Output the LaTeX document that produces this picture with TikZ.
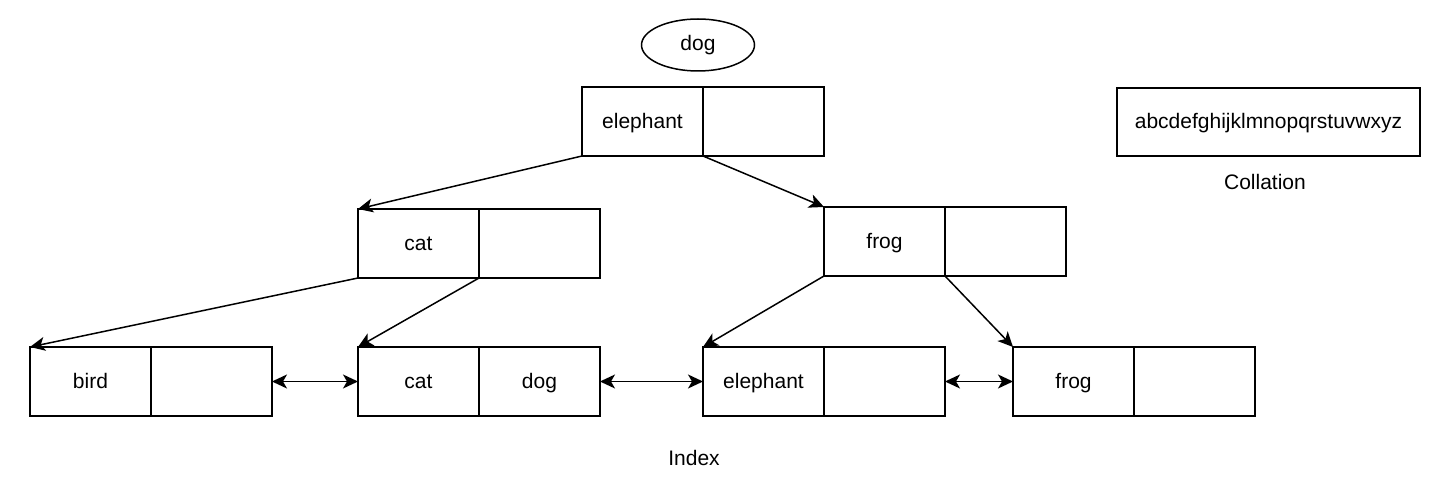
\documentclass[tikz,border=0pt]{standalone}
\usepackage{fontspec}
\setmainfont{Liberation Sans}
\usetikzlibrary{arrows.meta,shapes.geometric}
\begin{document}
\begin{tikzpicture}[x=1pt,y=-1pt,
  cell/.style={draw, line width=1.5pt, outer sep=0pt, minimum width=121pt, minimum height=69pt, inner sep=0pt, text height=17pt, text depth=3.4pt, font=\fontsize{21}{24}\selectfont},
  lbl/.style={font=\fontsize{21}{24}\selectfont, inner sep=0pt},
  conn/.style={line width=1.5pt, -{Stealth[length=15pt,width=14pt,inset=4pt]}},
  dconn/.style={line width=1.5pt, {Stealth[length=15pt,width=14pt,inset=4pt]}-{Stealth[length=15pt,width=14pt,inset=4pt]}}]
\useasboundingbox (0,0) rectangle (1429,502);
% root
\node[draw, ellipse, line width=1.5pt, minimum width=113pt, minimum height=52pt, inner sep=0pt, font=\fontsize{21}{24}\selectfont] (dog) at (698,45) {dog};
\node[cell, anchor=north west] (e1) at (582,87) {elephant};
\node[cell, anchor=west] (e2) at (e1.east) {};
% level 2
\node[cell, anchor=north west] (c1) at (358,209) {cat};
\node[cell, anchor=west] (c2) at (c1.east) {};
\node[cell, anchor=north west] (f1) at (824,207) {frog};
\node[cell, anchor=west] (f2) at (f1.east) {};
% leaves
\node[cell, anchor=north west] (l1a) at (30,347) {bird};
\node[cell, anchor=west] (l1b) at (l1a.east) {};
\node[cell, anchor=north west] (l2a) at (358,347) {cat};
\node[cell, anchor=west] (l2b) at (l2a.east) {dog};
\node[cell, anchor=north west] (l3a) at (703,347) {elephant};
\node[cell, anchor=west] (l3b) at (l3a.east) {};
\node[cell, anchor=north west] (l4a) at (1013,347) {frog};
\node[cell, anchor=west] (l4b) at (l4a.east) {};
% collation
\node[draw, line width=1.5pt, outer sep=0pt, minimum width=303pt, minimum height=68pt, inner sep=0pt, text height=17pt, text depth=3.4pt, font=\fontsize{21}{24}\selectfont] (coll) at (1268.5,122) {abcdefghijklmnopqrstuvwxyz};
\node[lbl] (colllbl) at (1265,182) {Collation};
\node[lbl] (index) at (694,458) {Index};
% tree edges
\draw[conn] (e1.south west) -- (c1.north west);
\draw[conn] (e1.south east) -- (f1.north west);
\draw[conn] (c1.south west) -- (l1a.north west);
\draw[conn] (c1.south east) -- (l2a.north west);
\draw[conn] (f1.south west) -- (l3a.north west);
\draw[conn] (f1.south east) -- (l4a.north west);
% sibling links
\draw[dconn] (l1b.east) -- (l2a.west);
\draw[dconn] (l2b.east) -- (l3a.west);
\draw[dconn] (l3b.east) -- (l4a.west);
\end{tikzpicture}
\end{document}
